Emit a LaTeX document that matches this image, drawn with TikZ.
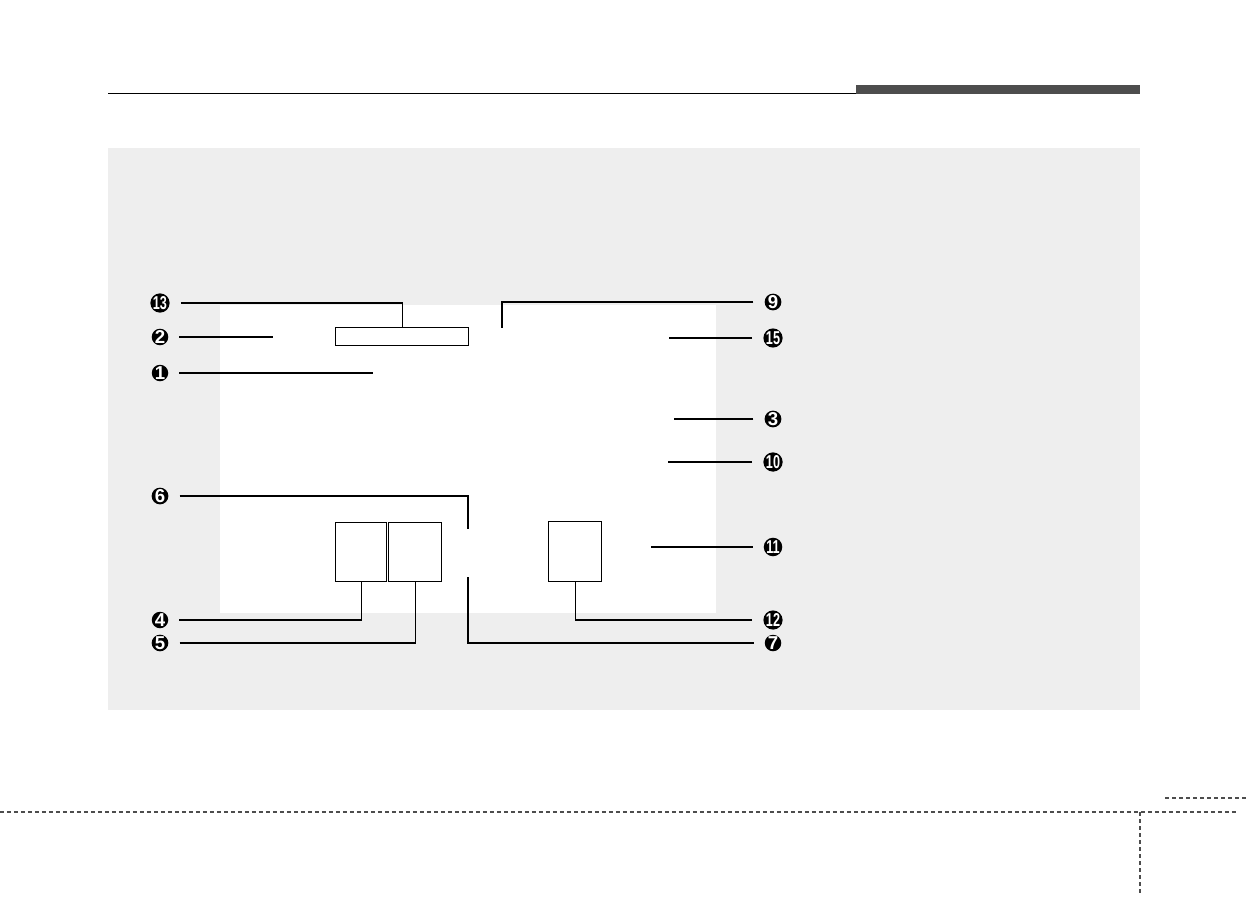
\documentclass[tikz,border=0pt]{standalone}
\usepackage{fontspec}
\setmainfont{Liberation Sans}
\usetikzlibrary{calc}
\definecolor{panelgray}{HTML}{EEEEEE}
\definecolor{bargray}{HTML}{4D4D4D}
\def\tnum#1{\scalebox{0.68}[1]{#1}}
\tikzset{
  num/.style={circle, fill=black, text=white, inner sep=0pt, minimum size=1.65mm,
    font=\fontsize{5.3pt}{6pt}\selectfont\bfseries},
  lead/.style={line width=0.4pt, shorten <=1.05mm},
  part/.style={draw, line width=0.4pt, fill=white, inner sep=0pt, anchor=north west},
  cutline/.style={bargray, line width=0.6pt, dash pattern=on 0.42mm off 0.28mm}
}

\begin{document}
\begin{tikzpicture}[x=0.1mm, y=-0.1mm]
	%%%%% START %%%%%
	\useasboundingbox (0,0) rectangle (1249,897);
	
	% header
	\draw[line width=0.37pt] (108,93.3) -- (856,93.3);
	\fill[bargray] (856,85) rectangle (1140,94);
	
	% panel
	\fill[panelgray] (108,148) rectangle (1140,710);
	\fill[white] (220,305) rectangle (716,613);
	
	% parts
	\node[part, minimum width=13.3mm, minimum height=1.8mm] (disp) at (335,327) {};
	\node[part, minimum width=5.1mm, minimum height=5.9mm] (swa) at (335,522) {};
	\node[part, minimum width=5.3mm, minimum height=5.9mm] (swb) at (388,522) {};
	\node[part, minimum width=5.3mm, minimum height=6.0mm] (swc) at (548,521) {};
	
	% free ends
	\coordinate (e2) at (273,337);
	\coordinate (e1) at (373,373);
	\coordinate (e9) at (502,328);
	\coordinate (e15) at (669,338);
	\coordinate (e3) at (674,419);
	\coordinate (e10) at (668,462);
	\coordinate (e11) at (651,547);
	\coordinate (e6) at (468,529);
	\coordinate (e7) at (468,577);
	
	% numbers, left
	\node[num] (n13) at (160,303) {\tnum{13}};
	\node[num] (n2) at (160,337) {2};
	\node[num] (n1) at (160,373) {1};
	\node[num] (n6) at (160,496) {6};
	\node[num] (n4) at (160,620) {4};
	\node[num] (n5) at (160,643) {5};
	
	% numbers, right
	\node[num] (n9) at (773,302) {9};
	\node[num] (n15) at (773,338) {\tnum{15}};
	\node[num] (n3) at (773,419) {3};
	\node[num] (n10) at (773,462) {\tnum{10}};
	\node[num] (n11) at (773,547) {\tnum{11}};
	\node[num] (n12) at (773,620) {\tnum{12}};
	\node[num] (n7) at (773,643) {7};
	
	% leaders
	\draw[lead] (n13.east) -| (disp.north);
	\draw[lead] (n2.east) -- (e2);
	\draw[lead] (n1.east) -- (e1);
	\draw[lead] (n6.east) -| (e6);
	\draw[lead] (n4.east) -| (swa.south);
	\draw[lead] (n5.east) -| (swb.south);
	
	\draw[lead] (n9.west) -| (e9);
	\draw[lead] (n15.west) -- (e15);
	\draw[lead] (n3.west) -- (e3);
	\draw[lead] (n10.west) -- (e10);
	\draw[lead] (n11.west) -- (e11);
	\draw[lead] (n12.west) -| (swc.south);
	\draw[lead] (n7.west) -| (e7);
	
	% footer
	\draw[cutline] (0,812) -- (1238,812);
	\draw[cutline] (1165,798) -- (1249,798);
	\draw[cutline] (1140,812) -- (1140,893);
	
	%%%%% END %%%%%
\end{tikzpicture}
\end{document}
